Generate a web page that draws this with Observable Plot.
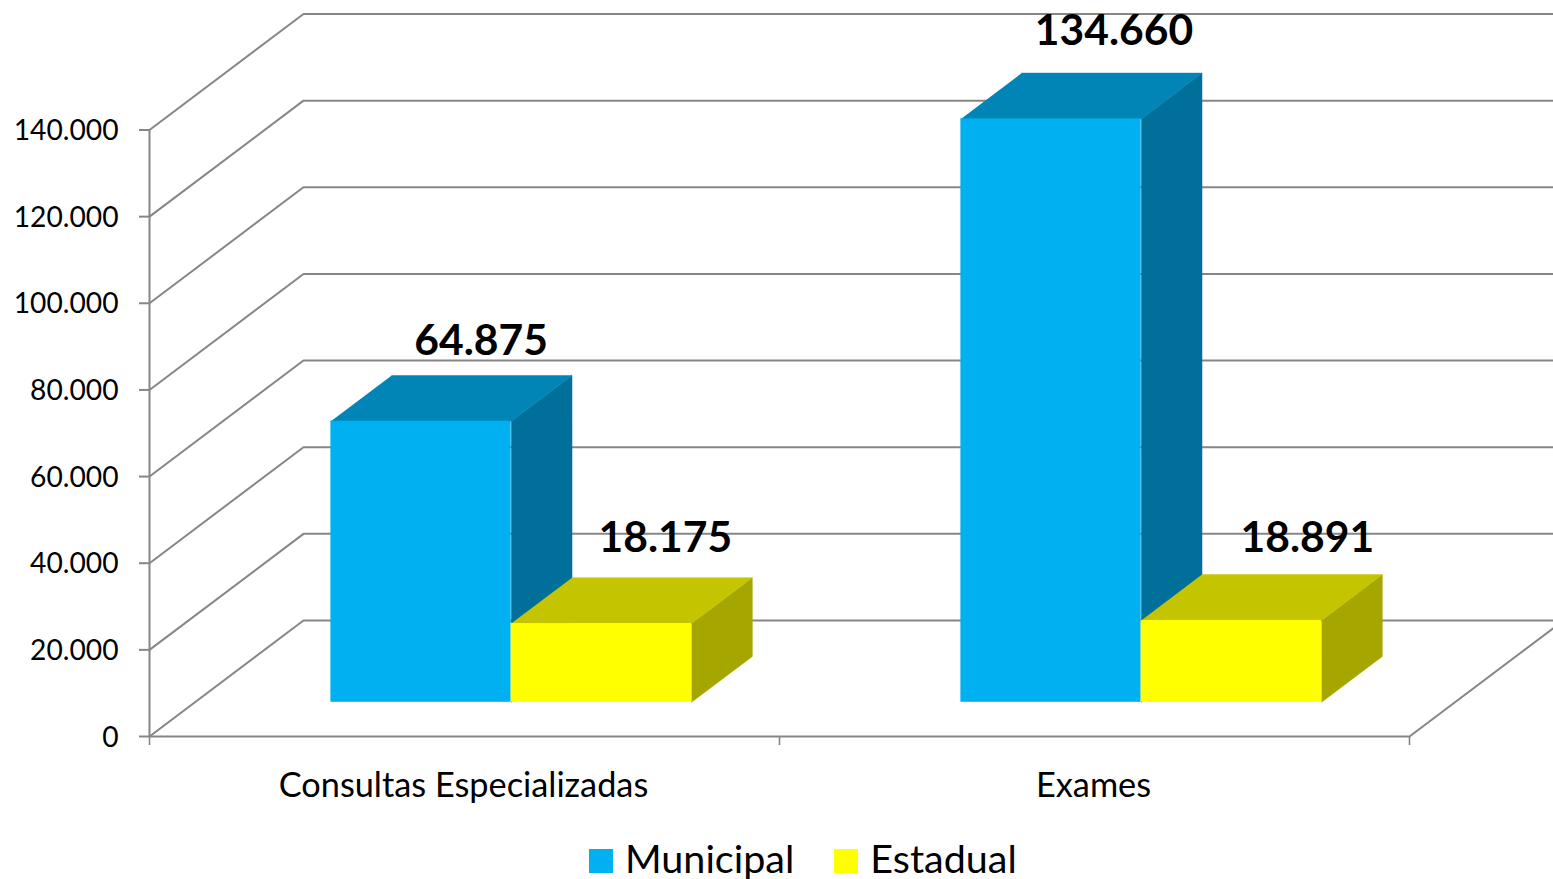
<!DOCTYPE html>
<html lang="pt">
<head>
<meta charset="utf-8">
<title>Municipal e Estadual</title>
<script src="https://cdn.jsdelivr.net/npm/d3@7"></script>
<script src="https://cdn.jsdelivr.net/npm/@observablehq/plot@0.6"></script>
<style>
html,body{margin:0;padding:0;background:#fff;overflow:hidden;width:1553px;height:879px}
#chart svg{display:block}
#legend{position:relative;box-sizing:border-box;height:49px;display:flex;align-items:center;padding-left:589px;padding-top:13px;font-family:Lato,sans-serif;font-size:39.5px;line-height:1;color:#000;white-space:nowrap}
#legend .sw{width:24px;height:24px;margin-right:12px;flex:none}
#legend .it{display:flex;align-items:center;margin-right:40px}
#legend span{position:relative;top:-3px}
</style>
</head>
<body>
<div id="chart"></div>
<div id="legend"></div>
<script>
const categories = ["Consultas Especializadas", "Exames"];
const seriesNames = ["Municipal", "Estadual"];
const municipal = [64875, 134660];
const estadual = [18175, 18891];
const yTicks = [0, 20000, 40000, 60000, 80000, 100000, 120000, 140000];

// Shared styling
const colors = {
  Municipal: {front: "#00B0F0", top: "#0085B6", side: "#00709A"},
  Estadual: {front: "#FFFF00", top: "#C4C400", side: "#A6A600"}
};
const gridColor = "#868686";

// Oblique projection of the depth axis into the x/y scale units
const depthX = 154 / 630;
const depthY = 116 / 606.5 * 140000;
const px = (x, d) => x + d * depthX;
const py = (v, d) => v + d * depthY;
const depthFront = 0.295, depthBack = 0.69;
const barStart = 0.2158, barWidth = 0.2862;

const bars = [];
categories.forEach((c, i) => {
  seriesNames.forEach((s, j) => {
    const value = (j === 0 ? municipal : estadual)[i];
    bars.push({id: `${i}-${j}`, category: c, series: s, value, x0: i + barStart + j * barWidth, x1: i + barStart + (j + 1) * barWidth});
  });
});

const face = (kind) => bars.flatMap((b) => {
  const corners = kind === "top"
    ? [[b.x0, b.value, depthFront], [b.x1, b.value, depthFront], [b.x1, b.value, depthBack], [b.x0, b.value, depthBack]]
    : [[b.x1, b.value, depthFront], [b.x1, b.value, depthBack], [b.x1, 0, depthBack], [b.x1, 0, depthFront]];
  return corners.map(([x, v, d]) => ({id: b.id, series: b.series, x: px(x, d), y: py(v, d)}));
});
const topFaces = face("top"), sideFaces = face("side");

const wallLines = yTicks.flatMap((v) => [
  {id: v, x: px(0, 0), y: py(v, 0)},
  {id: v, x: px(0, 1), y: py(v, 1)},
  {id: v, x: px(2, 1), y: py(v, 1)}
]);
const floorRight = [
  {x: px(0, 0), y: 0}, {x: px(2, 0), y: 0}, {x: px(2, 1), y: py(0, 1)}
];

const faceMarks = (s) => {
  const c = colors[s];
  const only = (rows) => rows.filter((r) => r.series === s);
  return [
    Plot.line(only(sideFaces), {x: "x", y: "y", z: "id", fill: c.side, stroke: c.side, strokeWidth: 0.5}),
    Plot.line(only(topFaces), {x: "x", y: "y", z: "id", fill: c.top, stroke: c.top, strokeWidth: 0.5}),
    Plot.rect(bars.filter((b) => b.series === s), {
      x1: (b) => px(b.x0, depthFront), x2: (b) => px(b.x1, depthFront),
      y1: py(0, depthFront), y2: (b) => py(b.value, depthFront),
      fill: c.front
    })
  ];
};

const fmt = (v) => d3.format(",")(v).replace(/,/g, ".");
const valueLabel = (idx, dx, dy) => Plot.text([bars[idx]], {
  x: (b) => px((b.x0 + b.x1) / 2, depthFront), y: (b) => py(b.value, depthFront),
  text: (b) => fmt(b.value), dx, dy,
  fontSize: 42.6, fontWeight: 700, fill: "#000"
});

const chart = Plot.plot({
  width: 1553, height: 830,
  marginLeft: 149, marginRight: 144, marginTop: 129.5, marginBottom: 94,
  style: {fontFamily: "Lato, sans-serif", background: "#fff", overflow: "hidden"},
  x: {type: "linear", domain: [0, 2], axis: null},
  y: {type: "linear", domain: [0, 140000], axis: null},
  marks: [
    Plot.line(wallLines, {x: "x", y: "y", z: "id", stroke: gridColor, strokeWidth: 2}),
    Plot.line(floorRight, {x: "x", y: "y", stroke: gridColor, strokeWidth: 2}),
    Plot.ruleX([0], {y1: 0, y2: 140000, stroke: gridColor, strokeWidth: 2}),
    Plot.axisY({ticks: yTicks, tickSize: 10, tickFormat: () => "", stroke: gridColor, label: null, strokeWidth: 2}),
    Plot.axisY({ticks: yTicks, tickSize: 0, tickPadding: 31, tickFormat: fmt, fontSize: 28.2, fill: "#000", label: null, dy: 1}),
    Plot.axisX({ticks: [0, 1, 2], tickSize: 9, tickFormat: () => "", stroke: gridColor, label: null, strokeWidth: 1.6}),
    Plot.axisX({ticks: [0.5, 1.5], tickSize: 0, tickPadding: 36, tickFormat: (d) => categories[Math.floor(d)], fontSize: 34.3, fill: "#000", label: null, dx: -1}),
    ...seriesNames.flatMap(faceMarks),
    valueLabel(0, 60, -80),
    valueLabel(1, 64, -85),
    valueLabel(2, 63, -88),
    valueLabel(3, 76, -82)
  ]
});
document.getElementById("chart").append(chart);

const legend = document.getElementById("legend");
seriesNames.forEach((s) => {
  const it = document.createElement("div"); it.className = "it";
  const sw = document.createElement("div"); sw.className = "sw"; sw.style.background = colors[s].front;
  const t = document.createElement("span"); t.textContent = s;
  it.append(sw, t); legend.append(it);
});
</script>
</body>
</html>
